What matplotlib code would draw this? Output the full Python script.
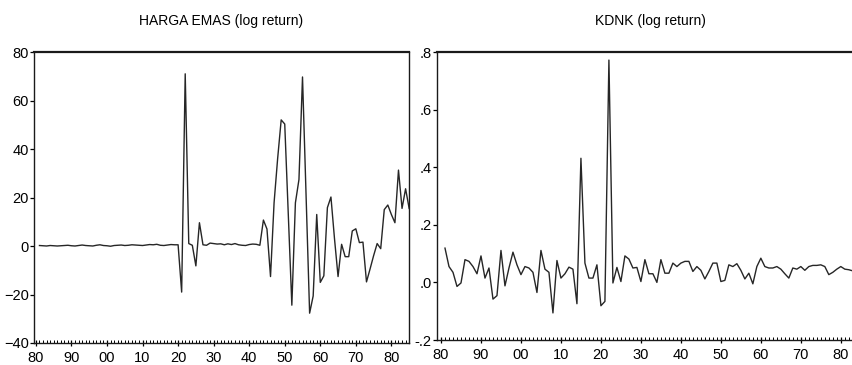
import matplotlib
matplotlib.use("Agg", force=True)
import matplotlib.pyplot as plt
import numpy as np
from matplotlib.ticker import FuncFormatter, MultipleLocator

plt.rcParams["font.family"] = ["Liberation Sans Narrow", "Liberation Sans", "DejaVu Sans"]

# tahun observasi (log return mulai 1981)
YEARS = np.arange(1981, 2086)

# HARGA EMAS (log return)
EMAS_FLAT = [0.2, 0.1, 0.0, 0.2, 0.1, 0.0, 0.1, 0.2, 0.3, 0.1,
             0.0, 0.2, 0.4, 0.2, 0.1, 0.0, 0.3, 0.5, 0.2, 0.1,
             -0.1, 0.2, 0.3, 0.4, 0.2, 0.3, 0.5, 0.4, 0.3, 0.2,
             0.4, 0.6, 0.5, 0.7, 0.3, 0.2, 0.4, 0.6, 0.5, 0.5]          # 1981-2020
EMAS_REST = [-19.0, 71.0, 1.0, 0.3, -8.2, 9.6, 0.5, 0.3,               # 2021-2028
             1.2, 1.0, 0.8, 0.9, 0.5, 0.9, 0.6, 1.0, 0.5, 0.3,          # 2029-2038
             0.2, 0.6, 0.8, 0.7, 0.3, 10.7, 7.0, -12.6, 17.8, 36.0,     # 2039-2048
             52.0, 50.3, 13.0, -24.4, 17.8, 27.4, 69.7, 21.0, -27.7,    # 2049-2057
             -20.6, 13.0, -15.0, -12.3, 15.8, 20.2, 3.0, -12.6, 0.7,    # 2058-2066
             -4.4, -4.4, 6.2, 7.1, 1.4, 1.6, -14.8, -9.5, -4.0, 1.0,    # 2067-2076
             -1.1, 15.0, 16.9, 13.0, 9.6, 31.3, 15.5, 23.6, 15.5]       # 2077-2085
emas = np.array(EMAS_FLAT + EMAS_REST)

# KDNK (log return)
KDNK = [0.119, 0.055, 0.035, -0.014, -0.002, 0.079, 0.073, 0.055, 0.030, 0.092,   # 1981-1990
        0.015, 0.050, -0.058, -0.046, 0.111, -0.012, 0.050, 0.105, 0.061, 0.027,  # 1991-2000
        0.055, 0.050, 0.035, -0.035, 0.111, 0.046, 0.035, -0.106, 0.076, 0.015,   # 2001-2010
        0.030, 0.053, 0.046, -0.074, 0.431, 0.067, 0.015, 0.015, 0.061, -0.081,   # 2011-2020
        -0.066, 0.772, -0.002, 0.052, 0.003, 0.092, 0.081, 0.050, 0.052, 0.003,   # 2021-2030
        0.079, 0.030, 0.030, 0.000, 0.079, 0.032, 0.032, 0.067, 0.055, 0.067,     # 2031-2040
        0.073, 0.073, 0.038, 0.055, 0.042, 0.012, 0.038, 0.067, 0.067, 0.003,     # 2041-2050
        0.007, 0.061, 0.055, 0.065, 0.042, 0.012, 0.032, -0.005, 0.055, 0.084,    # 2051-2060
        0.055, 0.050, 0.050, 0.055, 0.046, 0.030, 0.015, 0.050, 0.046, 0.055,     # 2061-2070
        0.042, 0.055, 0.059, 0.059, 0.061, 0.055, 0.027, 0.035, 0.046, 0.055,     # 2071-2080
        0.046, 0.044, 0.040, 0.040, 0.040]                                        # 2081-2085
kdnk = np.array(KDNK)

EMAS_TICKS = [-40, -20, 0, 20, 40, 60, 80]
KDNK_TICKS = [-0.2, 0.0, 0.2, 0.4, 0.6, 0.8]
KDNK_LABELS = ["-.2", ".0", ".2", ".4", ".6", ".8"]


def style_axis(ax, xlim):
    ax.set_xlim(*xlim)
    ax.xaxis.set_major_locator(MultipleLocator(10))
    ax.xaxis.set_minor_locator(MultipleLocator(1))
    ax.xaxis.set_major_formatter(FuncFormatter(lambda v, p: f"{int(round(v)) % 100:02d}"))
    ax.tick_params(axis="x", which="major", direction="inout", length=5, width=0.9,
                   labelsize=10.5, pad=3)
    ax.tick_params(axis="x", which="minor", direction="in", length=2.5, width=0.7)
    ax.tick_params(axis="y", direction="out", length=3, width=0.9, labelsize=10.5, pad=1)
    for s in ax.spines.values():
        s.set_linewidth(1.0)
        s.set_color("#1a1a1a")
    ax.spines["top"].set_linewidth(1.6)


W, H = 853, 365
fig = plt.figure(figsize=(W / 100, H / 100), dpi=100)

ax1 = fig.add_axes([34.5 / W, 1 - 343 / H, (409.5 - 34.5) / W, (343 - 52) / H])
ax1.plot(YEARS, emas, color="#262626", lw=1.0)
ax1.set_ylim(-40, 80)
ax1.set_yticks(EMAS_TICKS)
style_axis(ax1, (1979.6, 2085.1))
fig.text(221 / W, 1 - 21 / H, "HARGA EMAS (log return)", fontsize=10,
         ha="center", va="center")

ax2 = fig.add_axes([437 / W, 1 - 340 / H, (860 - 437) / W, (340 - 52) / H])
ax2.plot(YEARS, kdnk, color="#262626", lw=1.0)
ax2.set_ylim(-0.2, 0.8)
ax2.set_yticks(KDNK_TICKS)
ax2.set_yticklabels(KDNK_LABELS)
style_axis(ax2, (1979.0, 2084.8))
fig.text(650 / W, 1 - 21 / H, "KDNK (log return)", fontsize=10,
         ha="center", va="center")

fig.savefig("out.png", dpi=100)
